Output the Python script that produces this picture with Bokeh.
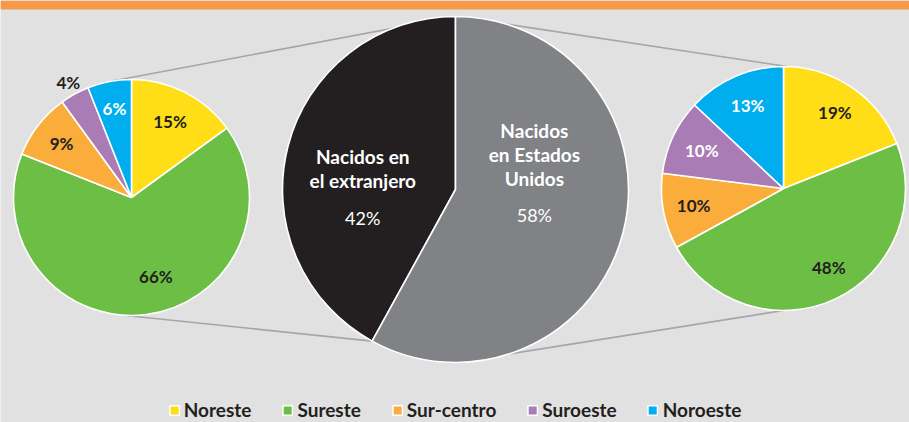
import numpy as np
from bokeh.plotting import figure
from bokeh.models import ColumnDataSource, Range1d, Legend, LegendItem
from bokeh.core.properties import value
from bokeh.embed import file_html
from bokeh.resources import INLINE

# ---------------- data ----------------
regions = ["Noreste", "Sureste", "Sur-centro", "Suroeste", "Noroeste"]
region_colors = ["#FFDD17", "#6DBE45", "#FBAD3B", "#A97CB6", "#00AEEF"]

foreign_values = [15, 66, 9, 4, 6]      # Nacidos en el extranjero (pie left)
us_values = [19, 48, 10, 10, 13]        # Nacidos en Estados Unidos (pie right)

birth_groups = ["Nacidos en\nel extranjero", "Nacidos\nen Estados\nUnidos"]
birth_values = [42, 58]
birth_colors = ["#231F20", "#808285"]

# ---------------- layout / style ----------------
W, H = 909, 422
BG = "#E1E1E1"
DARK = "#231F20"
ORANGE_BAR = "#F7984A"
CONNECTOR = "#A4A6A9"
FONT = "Lato"

# pie geometry (pixels, y measured from top)
left_pie = dict(cx=131, cy=197, r=118)
mid_pie = dict(cx=455, cy=189, r=173)
right_pie = dict(cx=783, cy=188, r=122)

left_label_colors = [DARK, DARK, DARK, DARK, "white"]
right_label_colors = [DARK, DARK, DARK, "white", "white"]
left_label_frac = [0.72, 0.70, 0.75, 1.11, 0.77]
left_label_nudge = [0, 10, 0, 0, 0]
right_label_frac = [0.75, 0.75, 0.75, 0.74, 0.74]
right_label_nudge = [0, 4.5, 0, 0, 0]

p = figure(width=W, height=H, x_range=Range1d(0, W), y_range=Range1d(0, H),
           x_axis_type=None, y_axis_type=None, min_border=0,
           toolbar_location=None, output_backend="svg",
           background_fill_color=BG, border_fill_color=BG,
           outline_line_color=None)
p.grid.visible = False


def pos(pie, ang_deg, frac):
    a = np.radians(ang_deg)
    return (pie["cx"] + frac * pie["r"] * np.cos(a),
            H - pie["cy"] + frac * pie["r"] * np.sin(a))


def wedge_angles(values, clockwise=True):
    v = np.asarray(values, dtype=float)
    frac = v / v.sum()
    cum = np.concatenate([[0], np.cumsum(frac)])
    sign = -1 if clockwise else 1
    a0 = np.pi / 2 + sign * 2 * np.pi * cum[:-1]
    a1 = np.pi / 2 + sign * 2 * np.pi * cum[1:]
    if clockwise:
        return a1, a0
    return a0, a1


# orange title bar
p.quad(left=[0], right=[W], top=[H], bottom=[H - 9], fill_color=ORANGE_BAR, line_color=None)

# connectors (drawn under the pies)
split_angle = 90 + 360 * birth_values[0] / sum(birth_values)
conn = [(left_pie, 100, mid_pie, 90), (left_pie, 265, mid_pie, split_angle),
        (right_pie, 88, mid_pie, 90), (right_pie, 270, mid_pie, 270)]
x0s, y0s, x1s, y1s = [], [], [], []
for pa, aa, pb, ab in conn:
    xa, ya = pos(pa, aa, 1.0)
    xb, yb = pos(pb, ab, 1.0)
    x0s.append(xa); y0s.append(ya); x1s.append(xb); y1s.append(yb)
p.segment(x0=x0s, y0=y0s, x1=x1s, y1=y1s, line_color=CONNECTOR, line_width=1.6)


def draw_side_pie(pie, values, label_colors, fracs, nudges):
    s, e = wedge_angles(values, clockwise=True)
    src = ColumnDataSource(dict(start=s, end=e, color=region_colors, region=regions))
    r = p.wedge(x=pie["cx"], y=H - pie["cy"], radius=pie["r"], start_angle="start",
                end_angle="end", fill_color="color", line_color="white",
                line_width=1.6, source=src)
    mids = np.degrees((s + e) / 2) + np.asarray(nudges)
    lx, ly = [], []
    for m, f in zip(mids, fracs):
        x, y = pos(pie, m, f)
        lx.append(x); ly.append(y)
    p.text(x=lx, y=ly, text=[f"{v}%" for v in values], text_color=label_colors,
           text_font=value(FONT), text_font_style="bold", text_font_size="17px",
           text_align="center", text_baseline="middle")
    return r


left_r = draw_side_pie(left_pie, foreign_values, left_label_colors, left_label_frac, left_label_nudge)
draw_side_pie(right_pie, us_values, right_label_colors, right_label_frac, right_label_nudge)

# middle pie
s, e = wedge_angles(birth_values, clockwise=False)
p.wedge(x=mid_pie["cx"], y=H - mid_pie["cy"], radius=mid_pie["r"], start_angle=s,
        end_angle=e, fill_color=birth_colors, line_color="white", line_width=1.6)

mid_label_angles = [196.8, -18.2]
mid_label_frac = [0.56, 0.48]
LINE_GAP = 24
PCT_GAP = 37
tx, ty, tt = [], [], []
px_, py_, pt = [], [], []
for g, v, a, f in zip(birth_groups, birth_values, mid_label_angles, mid_label_frac):
    x, y = pos(mid_pie, a, f)
    px_.append(x); py_.append(y); pt.append(f"{v}%")
    lines = g.split("\n")
    for k, line in enumerate(reversed(lines)):
        tx.append(x); ty.append(y + PCT_GAP + LINE_GAP * k); tt.append(line)
p.text(x=tx, y=ty, text=tt, text_color="white", text_font=value(FONT),
       text_font_style="bold", text_font_size="19px", text_align="center",
       text_baseline="middle")
p.text(x=px_, y=py_, text=pt, text_color="white", text_font=value(FONT),
       text_font_style="normal", text_font_size="18px", text_align="center",
       text_baseline="middle")

# legend
items = [LegendItem(label=regions[i], renderers=[left_r], index=i) for i in range(len(regions))]
legend = Legend(items=items, orientation="horizontal", location="bottom_center",
                glyph_width=12, glyph_height=12, label_standoff=4, spacing=30,
                padding=0, margin=1, background_fill_alpha=0, border_line_color=None,
                label_text_font=FONT, label_text_font_style="bold",
                label_text_font_size="19px", label_text_color=DARK, label_height=12)
p.add_layout(legend, "center")

open("out.html", "w").write(file_html(p, INLINE))
